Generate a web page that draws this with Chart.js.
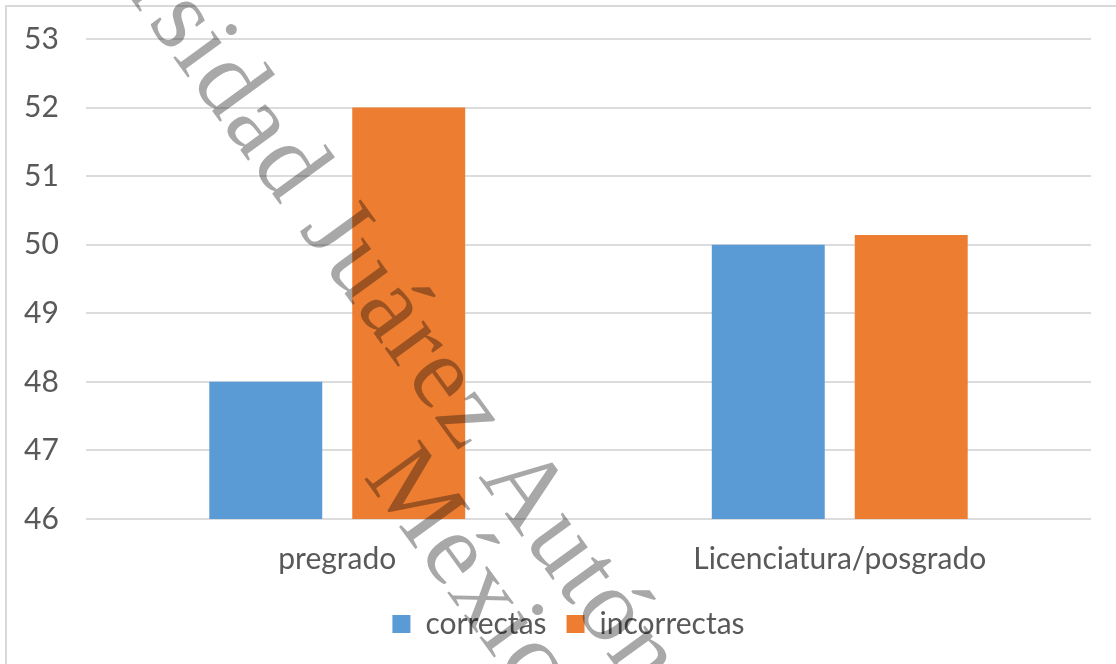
<!DOCTYPE html>
<html>
<head>
<meta charset="utf-8">
<script src="https://cdn.jsdelivr.net/npm/chart.js@4"></script>
<style>
  html, body { margin: 0; padding: 0; background: #fff; }
  #wrap { width: 1116px; height: 664px; }
</style>
</head>
<body>
<div id="wrap"><canvas id="chart" width="1116" height="664"></canvas></div>
<script>
// chart data
const categories = ['pregrado', 'Licenciatura/posgrado'];
const correctas = [48, 50];
const incorrectas = [52, 50.14];
const seriesNames = ['correctas', 'incorrectas'];
const yMin = 46;
const yMax = 53;

// watermark lines over the picture
const markLine1 = 'Universidad Juárez Autónoma';
const markLead = 'Universidad Juárez ';
const markLine2 = 'México';

const textFont = 'Lato, "Open Sans", sans-serif';
const textColor = '#595959';

const frame = {
    id: 'frame',
    afterLayout(chart) {
        // legend sits a little right of the canvas centre in the original
        chart.legend.left += 11;
        chart.legend.right += 11;
    },
    beforeDraw(chart) {
        const ctx = chart.ctx;
        ctx.save();
        ctx.strokeStyle = '#d9d9d9';
        ctx.lineWidth = 2;
        ctx.strokeRect(6, 6, 1300, 1300);
        ctx.restore();
    }
};

const watermark = {
    id: 'watermark',
    afterDraw(chart) {
        const ctx = chart.ctx;
        ctx.save();
        ctx.globalCompositeOperation = 'multiply';
        ctx.fillStyle = '#a8a8a8';
        ctx.font = '104px "Liberation Serif", serif';
        ctx.letterSpacing = '2px';
        ctx.textBaseline = 'alphabetic';
        ctx.translate(478, 477);
        ctx.rotate(54 * Math.PI / 180);
        const lead = ctx.measureText(markLead).width;
        ctx.fillText(markLine1, -lead, 0);
        ctx.fillText(markLine2, -68, 93);
        ctx.restore();
    }
};

new Chart(document.getElementById('chart'), {
    type: 'bar',
    data: {
        labels: categories,
        datasets: [
            { label: seriesNames[0], data: correctas, backgroundColor: '#5b9bd5' },
            { label: seriesNames[1], data: incorrectas, backgroundColor: '#ed7d31' }
        ]
    },
    options: {
        responsive: false,
        animation: false,
        categoryPercentage: 0.569,
        barPercentage: 0.79,
        layout: { padding: { left: 24, right: 25, top: 39, bottom: 15 } },
        plugins: {
            tooltip: { enabled: false },
            legend: {
                position: 'bottom',
                labels: {
                    boxWidth: 18,
                    boxHeight: 18,
                    padding: 20,
                    color: textColor,
                    font: { family: textFont, size: 30 }
                }
            }
        },
        scales: {
            x: {
                grid: { display: false, drawTicks: false },
                border: { display: false },
                ticks: { color: textColor, padding: 22, font: { family: textFont, size: 30 } },
                afterFit(scale) { scale.height = 70; }
            },
            y: {
                min: yMin,
                max: yMax,
                ticks: { stepSize: 1, color: textColor, padding: 20, crossAlign: 'far', font: { family: textFont, size: 30 } },
                grid: { color: '#dcdcdc', lineWidth: 2, drawTicks: false },
                border: { display: false },
                afterFit(scale) { scale.width = 62; }
            }
        }
    },
    plugins: [frame, watermark]
});
</script>
</body>
</html>
